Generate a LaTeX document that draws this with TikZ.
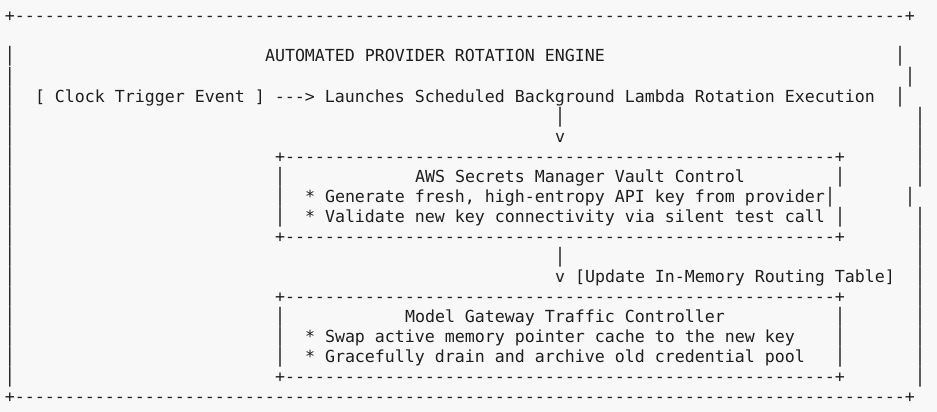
\documentclass[tikz,border=0pt]{standalone}
\usepackage{fontspec}
\usepackage{graphicx}
\setmonofont{DejaVu Sans Mono}
\definecolor{bgc}{HTML}{F8F8F8}
\definecolor{ink}{HTML}{1E1E1E}
\ExplSyntaxOn
\NewDocumentCommand\myrep{mm}{\prg_replicate:nn{#1}{#2}}
\ExplSyntaxOff
\newcommand\vb{\scalebox{1}[1.2]{|}}
\tikzset{
  txt/.style={anchor=base west, inner sep=0pt, outer sep=0pt, text=ink,
    font=\ttfamily\fontsize{16.61pt}{20pt}\selectfont},
}
\begin{document}
\begin{tikzpicture}[x=10pt,y=-20pt]
\path[use as bounding box, fill=bgc] (0,0) rectangle (93.7,20.6);
\begin{scope}[shift={(0.5,1.1)}]
% outer frame top and bottom
\node[txt] (top) at (0,0) {+\myrep{89}{-}+};
\node[txt] (bottom) at (0,19) {+\myrep{89}{-}+};
% left outer bars
\foreach \r in {2,...,18} {\node[txt] (L\r) at (0,\r) {\vb};}
% right outer bars
\node[txt] (R2) at (89,2) {\vb};
\node[txt] (R3) at (90,3) {\vb};
\node[txt] (R4) at (89,4) {\vb};
\foreach \r in {5,6,7,8,10,11,12,13,14,15,16,17,18} {\node[txt] (R\r) at (91,\r) {\vb};}
\node[txt] (R9) at (90,9) {\vb};
% title and trigger line
\node[txt] (title) at (26,2) {AUTOMATED PROVIDER ROTATION ENGINE};
\node[txt] (trigger) at (3,4) {[ Clock Trigger Event ] ---> Launches Scheduled Background Lambda Rotation Execution};
% first arrow
\node[txt] (a1bar) at (55,5) {\vb};
\node[txt] (a1head) at (55,6) {v};
% vault box
\node[txt] (vtop) at (27,7) {+\myrep{55}{-}+};
\foreach \r in {8,9,10} {\node[txt] (vl\r) at (27,\r) {\vb};}
\node[txt] (vr8) at (83,8) {\vb};
\node[txt] (vr9) at (82,9) {\vb};
\node[txt] (vr10) at (83,10) {\vb};
\node[txt] (vtitle) at (41,8) {AWS Secrets Manager Vault Control};
\node[txt] (vline1) at (30,9) {* Generate fresh, high-entropy API key from provider};
\node[txt] (vline2) at (30,10) {* Validate new key connectivity via silent test call};
\node[txt] (vbot) at (27,11) {+\myrep{55}{-}+};
% second arrow
\node[txt] (a2bar) at (55,12) {\vb};
\node[txt] (a2head) at (55,13) {v [Update In-Memory Routing Table]};
% gateway box
\node[txt] (gtop) at (27,14) {+\myrep{55}{-}+};
\foreach \r in {15,16,17} {\node[txt] (gl\r) at (27,\r) {\vb}; \node[txt] (gr\r) at (83,\r) {\vb};}
\node[txt] (gtitle) at (40,15) {Model Gateway Traffic Controller};
\node[txt] (gline1) at (30,16) {* Swap active memory pointer cache to the new key};
\node[txt] (gline2) at (30,17) {* Gracefully drain and archive old credential pool};
\node[txt] (gbot) at (27,18) {+\myrep{55}{-}+};
\end{scope}
\end{tikzpicture}
\end{document}
